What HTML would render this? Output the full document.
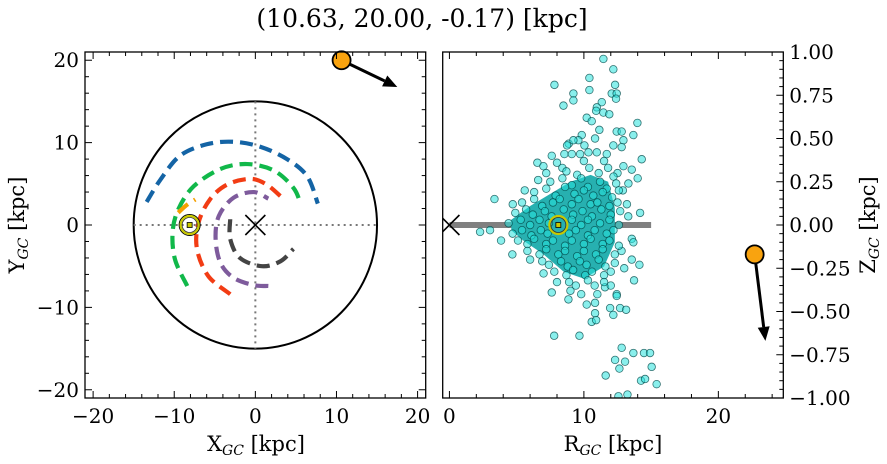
<!DOCTYPE html>
<html><head><meta charset="utf-8">
<style>
html,body{margin:0;padding:0;background:#fff;}
svg{display:block;font-family:"DejaVu Serif","Liberation Serif",serif;}
</style></head>
<body>
<svg id="fig" width="887" height="464" viewBox="0 0 887 464" xmlns="http://www.w3.org/2000/svg">
<text x="422" y="27" font-size="25" text-anchor="middle">(10.63, 20.00, -0.17) [kpc]</text>
<g id="left"></g>
<g id="right"></g>
<text x="256" y="451" font-size="21" text-anchor="middle">X<tspan font-size="14" font-style="italic" dy="4">GC</tspan><tspan dy="-4"> [kpc]</tspan></text>
<text transform="translate(24,225) rotate(-90)" font-size="21" text-anchor="middle">Y<tspan font-size="14" font-style="italic" dy="4">GC</tspan><tspan dy="-4"> [kpc]</tspan></text>
<text x="613" y="451" font-size="21" text-anchor="middle">R<tspan font-size="14" font-style="italic" dy="4">GC</tspan><tspan dy="-4"> [kpc]</tspan></text>
<text transform="translate(875,225) rotate(-90)" font-size="21" text-anchor="middle">Z<tspan font-size="14" font-style="italic" dy="4">GC</tspan><tspan dy="-4"> [kpc]</tspan></text>
</svg>
<script>
// ---- left panel data (X,Y kpc) ----
const xyTicks = [-20,-10,0,10,20];
const xyTickLabels = ["\u221220","\u221210","0","10","20"];
const discRadius = 15;
const sunXY = [-8.1, 0];
const objXY = [10.63, 20.0];
const objArrowXY = [17.5, 16.75];
const blueX = [-13.4,-11.7,-9.3,-6.0,-2.7,0.6,3.9,6.4,7.7];
const blueY = [2.8,5.5,8.4,9.8,10.1,9.5,8.0,5.9,2.6];
const greenX = [-8.4,-9.9,-10.2,-9.5,-7.6,-4.3,-1.0,2.3,4.7,5.6];
const greenY = [-7.4,-4.2,-0.9,1.9,4.7,6.8,7.4,6.6,4.5,2.5];
const orangeX = [-9.5,-8.5,-7.4];
const orangeY = [1.5,2.4,3.1];
const redX = [-3.1,-5.8,-7.2,-7.0,-5.6,-3.5,-0.6,1.4,3.1];
const redY = [-8.4,-6.2,-2.9,0.3,3.1,4.9,5.6,4.9,3.5];
const purpleX = [1.6,-0.2,-2.7,-4.3,-4.9,-4.5,-2.7,-0.2,1.6];
const purpleY = [-7.4,-7.3,-6.4,-4.6,-1.7,1.1,3.3,4.0,3.2];
const grayX = [-3.1,-3.1,-1.9,0.8,3.1,4.7];
const grayY = [0.7,-1.7,-4.0,-5.0,-4.4,-2.9];
// ---- right panel data (R, Z kpc) ----
const rTicks = [0,10,20];
const rTickLabels = ["0","10","20"];
const zTicks = [1,0.75,0.5,0.25,0,-0.25,-0.5,-0.75,-1];
const zTickLabels = ["1.00","0.75","0.50","0.25","0.00","\u22120.25","\u22120.50","\u22120.75","\u22121.00"];
const sunRZ = [8.1, 0];
const objRZ = [22.7, -0.17];
const objArrowRZ = [23.5, -0.67];
const discBarR = [0, 15];
const coreR = [4.6,6,7.5,9,10.5,11.8,12.3,12.3,11.5,10,8.5,7,5.5,4.6];
const coreZ = [0.03,0.11,0.18,0.25,0.29,0.25,0.1,-0.1,-0.24,-0.31,-0.27,-0.17,-0.09,-0.03];
const starsOuter = [[11.45,0.96],[12.19,0.9],[10.41,0.85],[10.41,0.78],[7.81,0.81],[9.22,0.76],[9.22,0.72],[8.48,0.69],[12.32,0.81],[12.07,0.76],[12.44,0.76],[12.39,0.73],[11.33,0.71],[10.96,0.68],[10.91,0.66],[11.45,0.65],[11.89,0.64],[10.21,0.62],[10.58,0.6],[11.15,0.55],[13.98,0.59],[12.44,0.54],[12.81,0.54],[13.68,0.52],[12.94,0.49],[9.84,0.52],[9.59,0.49],[8.87,0.47],[8.75,0.46],[9.22,0.49],[10.83,0.5],[12.19,0.46],[12.81,0.45],[10.04,0.46],[7.61,0.4],[6.54,0.36],[6.99,0.34],[8.55,0.41],[9.1,0.41],[9.72,0.41],[10.34,0.42],[10.96,0.42],[11.7,0.41],[14.3,0.38],[12.94,0.34],[13.56,0.32],[14.0,0.27],[13.31,0.24],[3.35,0.15],[4.71,0.12],[14.18,0.07],[2.28,-0.04],[3.02,-0.03],[3.84,-0.09],[4.68,-0.17],[13.56,-0.08],[13.68,-0.1],[14.13,-0.23],[13.56,-0.2],[13.73,-0.32],[7.61,-0.39],[8.85,-0.43],[10.21,-0.46],[10.83,-0.45],[11.57,-0.36],[12.44,-0.4],[12.44,-0.41],[11.95,-0.48],[12.69,-0.48],[13.14,-0.49],[12.19,-0.52],[10.83,-0.51],[10.58,-0.56],[10.91,-0.55],[7.79,-0.64],[9.67,-0.64],[12.81,-0.71],[12.32,-0.78],[13.68,-0.74],[13.06,-0.79],[14.47,-0.74],[14.92,-0.74],[15.04,-0.82],[12.64,-0.83],[11.62,-0.87],[14.25,-0.9],[14.55,-0.89],[15.41,-0.92],[12.57,-0.99],[13.24,-0.98],
[7.2,0.3],[8.0,0.36],[11.5,0.37],[12.5,0.3],[13.2,0.12],[5.6,0.2],[6.6,0.26],[13.0,-0.25],[12.0,-0.35],[9.0,-0.38],[7.0,-0.28],[6.0,-0.2],[11.0,-0.4],[13.3,0.05],[8.4,0.33],[10.0,0.37],[12.9,0.2],[12.8,-0.15],[9.8,-0.4],[8.0,-0.33]];
const starsCore = [[8.7,0.31],[9.5,0.29],[10.4,0.33],[11.1,0.3],[11.8,0.33],[12.2,0.28],
[7.5,0.25],[8.4,0.27],[9.1,0.23],[9.8,0.27],[10.3,0.22],[11.2,0.25],[11.7,0.21],[12.4,0.24],
[6.3,0.19],[7.2,0.21],[7.9,0.17],[8.6,0.22],[9.3,0.18],[10.0,0.2],[10.7,0.17],[11.4,0.19],[12.1,0.16],[12.6,0.2],
[5.4,0.13],[6.3,0.15],[6.9,0.11],[7.7,0.13],[8.2,0.15],[9.1,0.12],[9.6,0.15],[10.5,0.12],[11.0,0.13],[11.9,0.11],[12.5,0.13],
[4.9,0.07],[5.7,0.09],[6.2,0.06],[7.1,0.08],[7.6,0.05],[8.5,0.09],[9.2,0.06],[9.9,0.08],[10.6,0.05],[11.3,0.09],[12.0,0.06],[12.7,0.08],
[4.4,0.01],[5.3,0.03],[6.0,0.0],[6.7,0.03],[7.4,0.01],[9.1,0.03],[9.8,0.0],[10.3,0.03],[11.2,0.01],[11.9,0.03],[12.6,0.0],
[4.7,-0.05],[5.4,-0.03],[6.1,-0.06],[6.8,-0.03],[7.3,-0.05],[8.9,-0.05],[9.4,-0.03],[10.3,-0.06],[10.8,-0.03],[11.7,-0.05],[12.2,-0.03],
[5.1,-0.09],[5.8,-0.11],[6.3,-0.08],[7.2,-0.11],[7.7,-0.09],[8.6,-0.12],[9.1,-0.09],[10.0,-0.11],[10.5,-0.08],[11.4,-0.11],[11.9,-0.09],[12.6,-0.12],
[5.8,-0.15],[6.7,-0.17],[7.2,-0.14],[8.1,-0.17],[8.6,-0.15],[9.5,-0.18],[10.0,-0.15],[10.9,-0.17],[11.4,-0.14],[12.3,-0.17],
[6.9,-0.21],[7.4,-0.23],[8.3,-0.21],[8.8,-0.24],[9.7,-0.21],[10.2,-0.23],[11.1,-0.2],[11.6,-0.24],[12.3,-0.22],
[7.8,-0.27],[8.7,-0.29],[9.2,-0.26],[10.1,-0.29],[10.6,-0.27],[11.5,-0.29],[12.0,-0.27],
[8.9,-0.33],[9.4,-0.35],[10.3,-0.32],[10.8,-0.35],[11.5,-0.33]];

const NS="http://www.w3.org/2000/svg";
function mk(parent, tag, attrs){const e=document.createElementNS(NS,tag);for(const k in attrs)e.setAttribute(k,attrs[k]);parent.appendChild(e);return e;}

const L={x0:85,x1:425.7,y0:52,y1:398,min:-21,max:21};
const lx=x=>L.x0+(x-L.min)/(L.max-L.min)*(L.x1-L.x0);
const ly=y=>L.y0+(L.max-y)/(L.max-L.min)*(L.y1-L.y0);
const R={x0:442.7,x1:783.3,y0:52,y1:398,rmin:-0.5,rmax:24.83,zmin:-1,zmax:1};
const rx=r=>R.x0+(r-R.rmin)/(R.rmax-R.rmin)*(R.x1-R.x0);
const rz=z=>R.y0+(R.zmax-z)/(R.zmax-R.zmin)*(R.y1-R.y0);

const left=document.getElementById('left');
const right=document.getElementById('right');

let e;
e=mk(left,'ellipse',{cx:lx(0),cy:ly(0),rx:lx(discRadius)-lx(0),ry:ly(0)-ly(discRadius),fill:'none',stroke:'#000','stroke-width':2});


e=mk(left,'line',{x1:lx(0),y1:ly(discRadius),x2:lx(0),y2:ly(-discRadius),stroke:'#777','stroke-width':2,'stroke-dasharray':'2,4'});


e=mk(left,'line',{x1:lx(-discRadius),y1:ly(0),x2:lx(discRadius),y2:ly(0),stroke:'#777','stroke-width':2,'stroke-dasharray':'2,4'});



function smoothPath(xs,ys){
  const p=xs.map((x,i)=>[lx(x),ly(ys[i])]);
  let d='M'+p[0][0]+','+p[0][1];
  for(let i=0;i<p.length-1;i++){
    const p0=p[Math.max(0,i-1)],p1=p[i],p2=p[i+1],p3=p[Math.min(p.length-1,i+2)];
    const c1=[p1[0]+(p2[0]-p0[0])/6,p1[1]+(p2[1]-p0[1])/6];
    const c2=[p2[0]-(p3[0]-p1[0])/6,p2[1]-(p3[1]-p1[1])/6];
    d+=' C'+c1[0]+','+c1[1]+' '+c2[0]+','+c2[1]+' '+p2[0]+','+p2[1];
  }
  return d;
}
const arcs=[[blueX,blueY,'#1464a5','blue'],[greenX,greenY,'#11b84a','green'],[orangeX,orangeY,'#f5a000','orange'],[redX,redY,'#f23c14','red'],[purpleX,purpleY,'#7e5b9c','purple'],[grayX,grayY,'#444','gray']];
arcs.forEach(a=>{
  const p=mk(left,'path',{d:smoothPath(a[0],a[1]),fill:'none',stroke:a[2],'stroke-width':4.2,'stroke-dasharray':'13,7'});
  
  
});
function xMark(g,cx,cy,s,name){
  const gg=mk(g,'g',{});
  
  
  mk(gg,'line',{x1:cx-s,y1:cy-s,x2:cx+s,y2:cy+s,stroke:'#000','stroke-width':1.6});
  mk(gg,'line',{x1:cx-s,y1:cy+s,x2:cx+s,y2:cy-s,stroke:'#000','stroke-width':1.6});
}
xMark(left,lx(0),ly(0),10,'galactic-center');
function sun(g,cx,cy,outer,name){
  const gg=mk(g,'g',{});
  
  
  if(outer) mk(gg,'circle',{cx:cx,cy:cy,r:10.5,fill:'none',stroke:'#000','stroke-width':1});
  mk(gg,'circle',{cx:cx,cy:cy,r:9,fill:'none',stroke:'#c8c800','stroke-width':2.2});
  mk(gg,'circle',{cx:cx,cy:cy,r:7.5,fill:'none',stroke:'#333','stroke-width':0.8});
  mk(gg,'rect',{x:cx-2.5,y:cy-2.5,width:5,height:5,fill:'#c8c800',stroke:'#000','stroke-width':0.8});
}
sun(left,lx(sunXY[0]),ly(sunXY[1]),true,'sun-marker');
function arrow(g,x1,y1,x2,y2,name){
  const gg=mk(g,'g',{});
  
  
  const a=Math.atan2(y2-y1,x2-x1),h=14,w=6;
  const bx=x2-h*Math.cos(a),by=y2-h*Math.sin(a);
  mk(gg,'line',{x1:x1,y1:y1,x2:bx,y2:by,stroke:'#000','stroke-width':3});
  mk(gg,'polygon',{points:[x2,y2,bx-w*Math.sin(a),by+w*Math.cos(a),bx+w*Math.sin(a),by-w*Math.cos(a)].join(','),fill:'#000'});
}
arrow(left,lx(objXY[0]),ly(objXY[1]),lx(objArrowXY[0]),ly(objArrowXY[1]),'velocity-arrow-xy');
e=mk(left,'circle',{cx:lx(objXY[0]),cy:ly(objXY[1]),r:9,fill:'#f9a30f',stroke:'#000','stroke-width':1.8});



e=mk(left,'rect',{x:L.x0,y:L.y0,width:L.x1-L.x0,height:L.y1-L.y0,fill:'none',stroke:'#000','stroke-width':1.3});


for(let v=-20;v<=20;v+=2){
  const maj=v%10===0, len=maj?7:4;
  mk(left,'line',{x1:lx(v),y1:L.y1,x2:lx(v),y2:L.y1-len,stroke:'#000','stroke-width':1});
  mk(left,'line',{x1:lx(v),y1:L.y0,x2:lx(v),y2:L.y0+len,stroke:'#000','stroke-width':1});
  mk(left,'line',{x1:L.x0,y1:ly(v),x2:L.x0+len,y2:ly(v),stroke:'#000','stroke-width':1});
  mk(left,'line',{x1:L.x1,y1:ly(v),x2:L.x1-len,y2:ly(v),stroke:'#000','stroke-width':1});
}
xyTicks.forEach((v,i)=>{
  let t=mk(left,'text',{x:lx(v),y:L.y1+25,'font-size':20,'text-anchor':'middle'});
  t.textContent=xyTickLabels[i];
  
  
  t=mk(left,'text',{x:L.x0-6,y:ly(v)+7,'font-size':20,'text-anchor':'end'});
  t.textContent=xyTickLabels[i];
  
  
});

// ---- right panel ----
const clip=mk(right,'clipPath',{id:'rclip'});
mk(clip,'rect',{x:R.x0,y:R.y0,width:R.x1-R.x0,height:R.y1-R.y0});
const rg=mk(right,'g',{'clip-path':'url(#rclip)'});
e=mk(rg,'line',{x1:rx(discBarR[0]),y1:rz(0),x2:rx(discBarR[1]),y2:rz(0),stroke:'#808080','stroke-width':6});


e=mk(rg,'polygon',{points:coreR.map((r,i)=>rx(r)+','+rz(coreZ[i])).join(' '),fill:'#27b0b0',stroke:'none'});


const sg=mk(rg,'g',{});


starsOuter.concat(starsCore).forEach(p=>{
  const c=mk(sg,'circle',{cx:rx(p[0]),cy:rz(p[1]),r:3.8,fill:'rgba(40,225,220,0.55)',stroke:'rgba(0,70,70,0.75)','stroke-width':0.8});
  
  
});
xMark(rg,rx(0),rz(0),10,'galactic-center-rz');
sun(rg,rx(sunRZ[0]),rz(sunRZ[1]),false,'sun-marker-rz');
arrow(right,rx(objRZ[0]),rz(objRZ[1]),rx(objArrowRZ[0]),rz(objArrowRZ[1]),'velocity-arrow-rz');
e=mk(right,'circle',{cx:rx(objRZ[0]),cy:rz(objRZ[1]),r:9,fill:'#f9a30f',stroke:'#000','stroke-width':1.8});


e=mk(right,'rect',{x:R.x0,y:R.y0,width:R.x1-R.x0,height:R.y1-R.y0,fill:'none',stroke:'#000','stroke-width':1.3});


for(let v=0;v<=24;v+=2){
  const maj=v%10===0, len=maj?7:4;
  mk(right,'line',{x1:rx(v),y1:R.y1,x2:rx(v),y2:R.y1-len,stroke:'#000','stroke-width':1});
  mk(right,'line',{x1:rx(v),y1:R.y0,x2:rx(v),y2:R.y0+len,stroke:'#000','stroke-width':1});
}
for(let k=-20;k<=20;k++){
  const v=k*0.05, maj=k%5===0, len=maj?7:4;
  mk(right,'line',{x1:R.x1,y1:rz(v),x2:R.x1-len,y2:rz(v),stroke:'#000','stroke-width':1});
}
rTicks.forEach((v,i)=>{
  const t=mk(right,'text',{x:rx(v),y:R.y1+25,'font-size':20,'text-anchor':'middle'});
  t.textContent=rTickLabels[i];
  
  
});
zTicks.forEach((v,i)=>{
  const t=mk(right,'text',{x:R.x1+6,y:rz(v)+7,'font-size':20,'text-anchor':'start'});
  t.textContent=zTickLabels[i];
  
  
});
</script>
</body></html>
